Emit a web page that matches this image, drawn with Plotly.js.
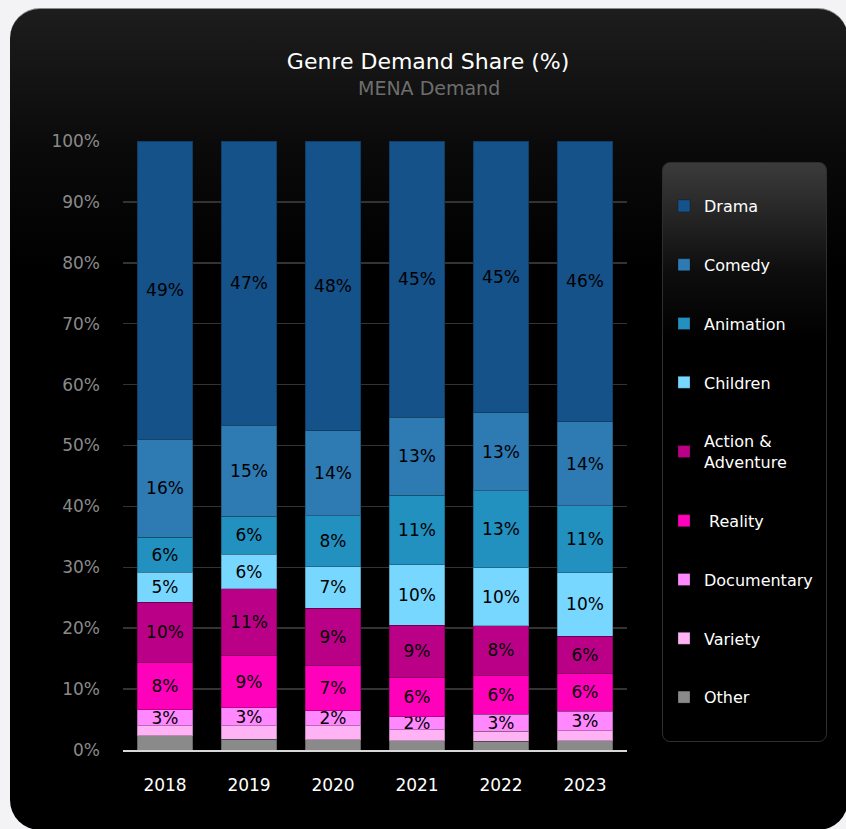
<!DOCTYPE html>
<html>
<head>
<meta charset="utf-8">
<script src="https://cdn.plot.ly/plotly-3.0.1.min.js"></script>
<style>
  html, body { margin:0; padding:0; background:#f3f3f5; width:846px; height:829px; overflow:hidden; }
  #card { position:absolute; left:10px; top:8px; width:838px; height:822px; border-radius:30px;
          background:linear-gradient(to bottom, #1d1d1d 0px, #0a0a0a 140px, #000 260px, #000 100%);
          border-top:1.5px solid #8a8a8a; box-sizing:border-box; }
  #legbox { position:absolute; left:662px; top:162px; width:165px; height:580px; border-radius:8px;
          background:linear-gradient(to bottom, #3b3b3b 0px, #0d0d0d 110px, #000 180px, #000 100%);
          border:1px solid #2e2e2e; box-sizing:border-box; }
  #chart { position:absolute; left:0; top:0; width:846px; height:829px; }
</style>
</head>
<body>
<div id="card"></div>
<div id="legbox"></div>
<div id="chart"></div>
<script>
const years = ['2018','2019','2020','2021','2022','2023'];
const other       = [2.3, 1.8, 1.7, 1.5, 1.4, 1.5];
const variety     = [1.7, 2.2, 2.3, 1.8, 1.7, 1.7];
const documentary = [2.6, 2.95, 2.45, 2.2, 2.8, 3.2];
const reality     = [7.8, 8.5, 7.45, 6.4, 6.4, 6.1];
const action      = [9.9, 11.0, 9.4, 8.6, 8.1, 6.2];
const children    = [4.9, 5.7, 6.8, 9.9, 9.5, 10.4];
const animation   = [5.7, 6.2, 8.4, 11.4, 12.7, 11.0];
const comedy      = [16.1, 15.0, 13.9, 12.8, 12.8, 13.8];
const drama       = [49.0, 46.65, 47.6, 45.4, 44.6, 46.1];

const seriesNames = ['Other','Variety','Documentary',' Reality','Action &<br>Adventure','Children','Animation','Comedy','Drama'];
const seriesData  = [other, variety, documentary, reality, action, children, animation, comedy, drama];
const seriesColors = ['#8a8a8a','#ffb3f4','#ff88ff','#ff00bb','#bb0088','#78d7ff','#2391c0','#2e7bb4','#16528a'];
const showLabel = [false, false, true, true, true, true, true, true, true];

const fontFam = '"DejaVu Sans", sans-serif';

const traces = seriesData.map((vals, i) => ({
  type: 'bar',
  name: seriesNames[i],
  x: years,
  y: vals,
  legendgroup: 'g' + i,
  legendrank: 100 - i,
  marker: { color: seriesColors[i], line: { color: 'rgba(0,0,0,0.25)', width: 1 } },
  texttemplate: showLabel[i] ? '%{y:.0f}%' : '',
  textposition: 'inside',
  insidetextanchor: 'middle',
  constraintext: 'none',
  textangle: 0,
  textfont: { color: '#000', size: 17, family: fontFam },
  hoverinfo: 'x+y+name'
}));

const layout = {
  width: 846, height: 829,
  paper_bgcolor: 'rgba(0,0,0,0)',
  plot_bgcolor: 'rgba(0,0,0,0)',
  barmode: 'stack',
  bargap: 0.345,
  margin: { l: 123, r: 219, t: 141, b: 79 },
  font: { family: fontFam, color: '#fff' },
  title: { text: 'Genre Demand Share (%)', x: 0.506, xanchor: 'center', y: 1 - 61/829, yanchor: 'middle',
           font: { size: 22, color: '#fff', family: fontFam } },
  annotations: [{ text: 'MENA Demand', xref: 'paper', yref: 'paper', x: (429-123)/504, y: (750-88)/609,
                  xanchor: 'center', yanchor: 'middle', showarrow: false,
                  font: { size: 19, color: '#6e6e6e', family: fontFam } }],
  xaxis: { type: 'category', showgrid: false, showline: true, linecolor: '#d8d8d8', linewidth: 2,
           tickfont: { size: 17, color: '#fff' }, ticks: '', ticklabelstandoff: 19, fixedrange: true },
  yaxis: { range: [0, 100], dtick: 10, ticksuffix: '%', showgrid: true, gridcolor: '#333', gridwidth: 1.5,
           zeroline: false, tickfont: { size: 17, color: '#8a8a8a' }, ticks: '', ticklabelstandoff: 22, fixedrange: true },
  showlegend: true,
  legend: { x: (664-123)/504, xanchor: 'left', y: (750-189)/609, yanchor: 'top',
            traceorder: 'grouped', tracegroupgap: 35, bgcolor: 'rgba(0,0,0,0)',
            font: { size: 16, color: '#fff', family: fontFam }, itemwidth: 30, valign: 'middle' }
};

Plotly.newPlot('chart', traces, layout, { displayModeBar: false, staticPlot: true });
</script>
</body>
</html>
